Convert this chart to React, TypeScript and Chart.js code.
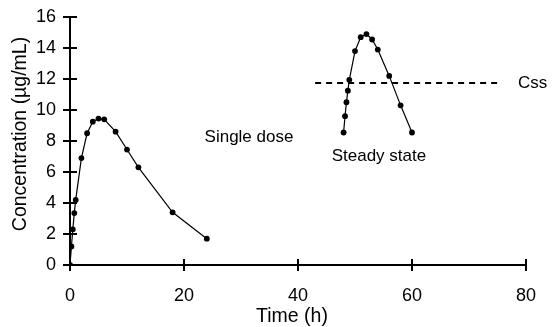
import React, { useEffect, useRef } from "react";
import { Chart, registerables } from "chart.js";

Chart.register(...registerables);

// Single dose
const singleTime = [0, 0.25, 0.5, 0.75, 1, 2, 3, 4, 5, 6, 8, 10, 12, 18, 24];
const singleConc = [0, 1.2, 2.3, 3.35, 4.2, 6.9, 8.5, 9.25, 9.45, 9.4, 8.6, 7.45, 6.3, 3.4, 1.7];

// Steady state
const steadyTime = [48, 48.25, 48.5, 48.75, 49, 50, 51, 52, 53, 54, 56, 58, 60];
const steadyConc = [8.55, 9.6, 10.5, 11.25, 11.95, 13.8, 14.7, 14.9, 14.55, 13.9, 12.2, 10.3, 8.55];

// Css reference line
const cssTime = [43, 75];
const cssConc = [11.75, 11.75];

const xTicks = [0, 20, 40, 60, 80];
const yTicks = [0, 2, 4, 6, 8, 10, 12, 14, 16];

const annotations = [
  { text: "Single dose", x: 31.4, y: 8.25, align: "center" },
  { text: "Steady state", x: 54.2, y: 7.0, align: "center" },
  { text: "Css", x: 78.6, y: 11.75, align: "left" },
];

const FONT = "Liberation Sans, Arial, Helvetica, sans-serif";

const toXY = (xs: number[], ys: number[]) => xs.map((x, i) => ({ x, y: ys[i] }));

const decorPlugin = {
  id: "decor",
  afterDraw(chart: any) {
    const ctx = chart.ctx;
    const xs = chart.scales.x;
    const ys = chart.scales.y;
    const area = chart.chartArea;
    ctx.save();
    ctx.strokeStyle = "#000";
    ctx.lineWidth = 2;
    // crossing tick marks
    ctx.beginPath();
    yTicks.forEach((v) => {
      const py = Math.round(ys.getPixelForValue(v));
      ctx.moveTo(area.left - 7, py);
      ctx.lineTo(area.left + 7, py);
    });
    xTicks.forEach((v) => {
      const px = Math.round(xs.getPixelForValue(v));
      ctx.moveTo(px, area.bottom - 6);
      ctx.lineTo(px, area.bottom + 6);
    });
    ctx.stroke();

    ctx.fillStyle = "#000";
    ctx.font = `17px ${FONT}`;
    ctx.textBaseline = "middle";
    annotations.forEach((a) => {
      ctx.textAlign = a.align as CanvasTextAlign;
      ctx.fillText(a.text, xs.getPixelForValue(a.x), ys.getPixelForValue(a.y));
    });

    // axis titles
    ctx.font = `19.5px ${FONT}`;
    ctx.textAlign = "center";
    ctx.fillText("Time (h)", 292, 317);
    ctx.save();
    ctx.translate(21, 134);
    ctx.rotate(-Math.PI / 2);
    ctx.fillText("Concentration (\u00B5g/mL)", 0, 0);
    ctx.restore();
    ctx.restore();
  },
};

export default function App() {
  const ref = useRef<HTMLCanvasElement>(null);
  useEffect(() => {
    if (!ref.current) return;
    const chart = new Chart(ref.current, {
      type: "line",
      data: {
        datasets: [
          {
            label: "Single dose",
            data: toXY(singleTime, singleConc),
            borderColor: "#000",
            backgroundColor: "#000",
            borderWidth: 1.2,
            pointRadius: 2.9,
            pointBorderWidth: 0,
            tension: 0,
          },
          {
            label: "Steady state",
            data: toXY(steadyTime, steadyConc),
            borderColor: "#000",
            backgroundColor: "#000",
            borderWidth: 1.2,
            pointRadius: 2.9,
            pointBorderWidth: 0,
            tension: 0,
          },
          {
            label: "Css",
            data: toXY(cssTime, cssConc),
            borderColor: "#000",
            borderWidth: 2,
            borderDash: [6, 5],
            pointRadius: 0,
          },
        ],
      },
      options: {
        animation: false,
        responsive: false,
        devicePixelRatio: 1,
        layout: { padding: { top: 17, right: 26, left: 0, bottom: 0 } },
        plugins: { legend: { display: false }, tooltip: { enabled: false } },
        scales: {
          x: {
            type: "linear",
            min: 0,
            max: 80,
            afterFit: (s: any) => {
              s.height = 62;
              s.paddingLeft = 0;
              s.paddingRight = 0;
            },
            afterBuildTicks: (s: any) => {
              s.ticks = xTicks.map((v) => ({ value: v }));
            },
            grid: { display: false, drawTicks: false },
            border: { display: true, color: "#000", width: 2 },
            ticks: {
              color: "#000",
              padding: 20,
              maxRotation: 0,
              font: { family: FONT, size: 18 },
            },
          },
          y: {
            type: "linear",
            min: 0,
            max: 16,
            afterFit: (s: any) => {
              s.width = 70;
              s.paddingTop = 0;
              s.paddingBottom = 0;
            },
            afterBuildTicks: (s: any) => {
              s.ticks = yTicks.map((v) => ({ value: v }));
            },
            grid: { display: false, drawTicks: false },
            border: { display: true, color: "#000", width: 2 },
            ticks: {
              color: "#000",
              padding: 14,
              font: { family: FONT, size: 18 },
            },
          },
        },
      },
      plugins: [decorPlugin],
    });
    return () => chart.destroy();
  }, []);
  return (
    <div style={{ position: "fixed", left: 0, top: 0, width: 552, height: 327, background: "#fff" }}>
      <canvas ref={ref} width={552} height={327} />
    </div>
  );
}
